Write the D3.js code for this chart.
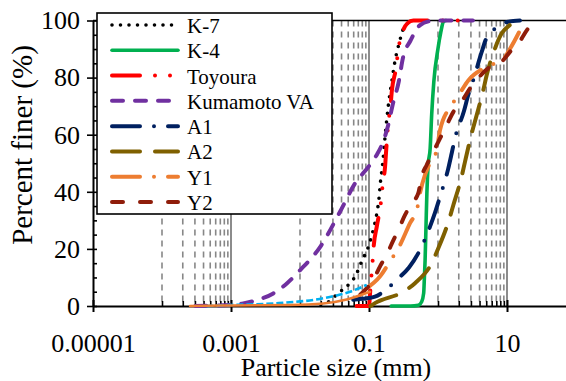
<!DOCTYPE html>
<html>
<head>
<meta charset="utf-8">
<script src="https://cdn.jsdelivr.net/npm/d3@7"></script>
<style>
  html, body { margin: 0; padding: 0; background: #fff; }
  svg { display: block; }
</style>
</head>
<body>
<svg id="chart" width="566" height="381"></svg>
<script>
// Grain-size distribution curves (percent finer vs particle size, mm)

const k7Size   = [0.02, 0.029, 0.034, 0.042, 0.053, 0.063, 0.078, 0.1, 0.115, 0.13, 0.14, 0.146, 0.158, 0.17, 0.19, 0.214, 0.235, 0.28, 0.31, 0.36, 0.44];
const k7Pct    = [0.5, 2.3, 4, 5.8, 8, 10.3, 15.5, 21.4, 26.6, 32.5, 38, 43, 50, 58.7, 70, 78.6, 85, 93, 96.7, 99, 100];

const k4Size   = [0.21, 0.4, 0.52, 0.58, 0.62, 0.635, 0.65, 0.67, 0.69, 0.72, 0.77, 0.81, 0.87, 1.0, 1.1, 1.2, 1.3];
const k4Pct    = [0, 0, 0.3, 1.5, 4.5, 10, 16, 28, 39.5, 49.4, 55.2, 67, 78.6, 90.2, 96, 99.6, 100];

const toySize  = [0.066, 0.1, 0.104, 0.108, 0.113, 0.117, 0.13, 0.15, 0.158, 0.171, 0.178, 0.19, 0.204, 0.215, 0.245, 0.27, 0.31, 0.36, 0.44, 2.1];
const toyPct   = [0, 0, 5, 10, 16, 21, 28, 37, 42.7, 48.8, 55, 64, 69.5, 75.7, 83, 90.8, 96.3, 99, 100, 100];

const kumSize  = [0.000304, 0.001, 0.0015, 0.0024, 0.0041, 0.0065, 0.01, 0.02, 0.038, 0.063, 0.1, 0.13, 0.16, 0.19, 0.22, 0.27, 0.31, 0.4, 0.55, 0.77, 1, 3.2];
const kumPct   = [0, 0.4, 0.9, 2.1, 4.4, 8, 12.5, 21, 33, 43, 49, 53, 57.5, 63.4, 70.4, 78.6, 86.8, 93, 98.4, 99.8, 100, 100];

const a1Size   = [0.059, 0.078, 0.1, 0.122, 0.266, 0.38, 0.518, 0.766, 0.905, 1.07, 1.41, 1.58, 1.76, 2.38, 2.75, 3.25, 4.3, 5.08, 7.48, 10, 15.4];
const a1Pct    = [2.2, 2.5, 2.8, 3.3, 9.7, 13.5, 18.5, 27.8, 32.7, 38.3, 48.2, 53.5, 58.7, 68.3, 74, 79.2, 89, 94, 97.8, 99.5, 100];

const a2Size   = [0.105, 0.122, 0.314, 0.464, 0.81, 1.01, 1.45, 1.67, 2.2, 2.46, 3.08, 3.64, 4.54, 5.08, 6.7, 8.38, 11, 13.8, 17];
const a2Pct    = [0, 1, 5, 8, 15, 20.2, 30.3, 35.4, 45.3, 50.5, 60.5, 66.9, 75.7, 80.9, 90.2, 95.5, 98.4, 99.8, 100];

const y1Size   = [0.0926, 0.144, 0.2, 0.266, 0.393, 0.5, 0.548, 0.648, 0.723, 0.957, 1.07, 1.58, 2.04, 2.75, 5.08, 9.06, 11, 18.2];
const y1Pct    = [6.2, 10.3, 15.5, 20.2, 29, 34.2, 39.5, 45.9, 48.8, 54.6, 61.6, 70.4, 74.3, 79, 83.8, 86.8, 90, 100];

const y2Size   = [0.075, 0.0926, 0.122, 0.144, 0.18, 0.225, 0.266, 0.333, 0.416, 0.518, 0.58, 0.686, 0.81, 1.07, 1.34, 1.67, 2.2, 2.91, 3.64, 5.36, 8.38, 11.7, 14.6, 20.4, 26.9];
const y2Pct    = [4, 6.2, 10.3, 13.8, 17.9, 23, 26.6, 31.9, 36, 39.5, 45.3, 49.4, 52.9, 58.7, 63.4, 68, 71.6, 76.2, 79.2, 83.3, 85.6, 89.7, 92, 97.3, 100];

// fines (hydrometer) portions, not listed in the legend
const finesBlueSize   = [0.00044, 0.001, 0.0041, 0.0216, 0.053, 0.0926];
const finesBluePct    = [0, 0.35, 0.9, 2.7, 5, 7.4];
const finesOrangeSize = [0.000255, 0.001, 0.0072, 0.0218, 0.0475, 0.103];
const finesOrangePct  = [0, 0.2, 0.35, 0.9, 2.3, 5];

const seriesNames = ["K-7", "K-4", "Toyoura", "Kumamoto VA", "A1", "A2", "Y1", "Y2"];

const xMajorTicks = [1e-5, 1e-3, 1e-1, 10, 1000];
const xLabeledTicks = [1e-5, 1e-3, 1e-1, 10];
const xTickLabels = ["0.00001", "0.001", "0.1", "10"];
const yMajorTicks = [0, 20, 40, 60, 80, 100];
const yMinorTicks = [5, 10, 15, 25, 30, 35, 45, 50, 55, 65, 70, 75, 85, 90, 95];

const FONT = '"Liberation Serif", serif';

// line appearance for each curve
const styles = {
  "K-7":         { color: "#000000", width: 3.6, dash: "0,8.5",               cap: "round" },
  "K-4":         { color: "#00B050", width: 3.6, dash: null,                  cap: "round" },
  "Toyoura":     { color: "#FF0000", width: 4,   dash: "28,15,0,15,0,15",     cap: "round" },
  "Kumamoto VA": { color: "#7030A0", width: 4,   dash: "11,12",               cap: "round" },
  "A1":          { color: "#002060", width: 4,   dash: "28,14,0,14",          cap: "round" },
  "A2":          { color: "#7F6000", width: 4,   dash: "28,15",               cap: "round" },
  "Y1":          { color: "#ED7D31", width: 4,   dash: "28,14,0,14",          cap: "round" },
  "Y2":          { color: "#8F1D0A", width: 4,   dash: "11,17",               cap: "round" },
  "finesBlue":   { color: "#00B0F0", width: 2.6, dash: "7,3",                 cap: "butt" },
  "finesOrange": { color: "#ED7D31", width: 2.6, dash: null,                  cap: "round" }
};

const zip = (xs, ys) => xs.map((v, i) => [v, ys[i]]);
const curves = [
  { key: "K-7",         pts: zip(k7Size, k7Pct) },
  { key: "K-4",         pts: zip(k4Size, k4Pct) },
  { key: "Toyoura",     pts: zip(toySize, toyPct) },
  { key: "Kumamoto VA", pts: zip(kumSize, kumPct) },
  { key: "A1",          pts: zip(a1Size, a1Pct) },
  { key: "A2",          pts: zip(a2Size, a2Pct) },
  { key: "Y1",          pts: zip(y1Size, y1Pct) },
  { key: "Y2",          pts: zip(y2Size, y2Pct) },
  { key: "finesBlue",   pts: zip(finesBlueSize, finesBluePct) },
  { key: "finesOrange", pts: zip(finesOrangeSize, finesOrangePct) }
];

const svg = d3.select("#chart");
const plot = { left: 93, top: 20.5, bottom: 306, right: 645 };

const x = d3.scaleLog().domain([1e-5, 1000]).range([plot.left, plot.right]);
const y = d3.scaleLinear().domain([0, 100]).range([plot.bottom, plot.top]);

// minor positions of a base-100 log axis: 10..90 times each major value
const xMinorTicks = [];
xMajorTicks.forEach(m => { for (let n = 1; n <= 9; n++) xMinorTicks.push(m * 10 * n); });

svg.append("rect").attr("width", 566).attr("height", 381).attr("fill", "#fff");

// vertical gridlines
const grid = svg.append("g");
grid.selectAll("line.minor").data(xMinorTicks).join("line")
  .attr("class", "minor")
  .attr("x1", d => x(d)).attr("x2", d => x(d))
  .attr("y1", plot.top).attr("y2", plot.bottom)
  .attr("stroke", "#878787").attr("stroke-width", 1.6)
  .attr("stroke-dasharray", "6,5");
grid.selectAll("line.major").data(xMajorTicks.slice(1)).join("line")
  .attr("class", "major")
  .attr("x1", d => x(d)).attr("x2", d => x(d))
  .attr("y1", plot.top).attr("y2", plot.bottom)
  .attr("stroke", "#8c8c8c").attr("stroke-width", 2);

// plot frame (top edge)
svg.append("line")
  .attr("x1", plot.left).attr("x2", plot.right)
  .attr("y1", plot.top).attr("y2", plot.top)
  .attr("stroke", "#000").attr("stroke-width", 1.6);

// x axis
const labelOf = d => xTickLabels[xLabeledTicks.indexOf(d)];
const xAxis = svg.append("g")
  .attr("transform", `translate(0,${plot.bottom})`)
  .call(d3.axisBottom(x).tickValues(xLabeledTicks).tickFormat(labelOf)
        .tickSizeInner(6).tickSizeOuter(0).tickPadding(22));
xAxis.select(".domain").attr("stroke-width", 2);
xAxis.selectAll(".tick line").attr("y1", -6).attr("y2", 6).attr("stroke-width", 2);
xAxis.selectAll(".tick text").attr("fill", "#000")
  .style("font-family", FONT).style("font-size", "26px");
const xMinorAxis = svg.append("g")
  .attr("transform", `translate(0,${plot.bottom})`)
  .call(d3.axisTop(x).tickValues(xMinorTicks).tickFormat("").tickSizeInner(5).tickSizeOuter(0));
xMinorAxis.select(".domain").remove();
xMinorAxis.selectAll(".tick line").attr("stroke-width", 1.6);

// y axis
const yAxis = svg.append("g")
  .attr("transform", `translate(${plot.left},0)`)
  .call(d3.axisLeft(y).tickValues(yMajorTicks).tickFormat(d3.format("d"))
        .tickSizeInner(6).tickSizeOuter(0).tickPadding(7));
yAxis.select(".domain").attr("stroke-width", 2);
yAxis.selectAll(".tick line").attr("x1", -6).attr("x2", 4).attr("stroke-width", 1.6);
yAxis.selectAll(".tick text").attr("fill", "#000")
  .style("font-family", FONT).style("font-size", "26px");
const yMinorAxis = svg.append("g")
  .attr("transform", `translate(${plot.left},0)`)
  .call(d3.axisRight(y).tickValues(yMinorTicks).tickFormat("").tickSizeInner(4).tickSizeOuter(0));
yMinorAxis.select(".domain").remove();
yMinorAxis.selectAll(".tick line").attr("stroke-width", 1.6);

// axis titles
svg.append("text")
  .attr("x", 336).attr("y", 376)
  .attr("text-anchor", "middle")
  .style("font-family", FONT).style("font-size", "26px")
  .text("Particle size (mm)");
svg.append("text")
  .attr("transform", "translate(32,145) rotate(-90)")
  .attr("text-anchor", "middle")
  .style("font-family", FONT).style("font-size", "29px")
  .text("Percent finer (%)");

// curves
const line = d3.line().x(d => x(d[0])).y(d => y(d[1])).curve(d3.curveMonotoneX);
const applyStyle = (sel, st) => sel
  .attr("fill", "none")
  .attr("stroke", st.color)
  .attr("stroke-width", st.width)
  .attr("stroke-linecap", st.cap)
  .attr("stroke-linejoin", "round")
  .attr("stroke-dasharray", st.dash);

const curveLayer = svg.append("g");
curves.forEach(c => {
  curveLayer.append("path").datum(c.pts).attr("d", line).call(applyStyle, styles[c.key]);
});

// legend
const lg = svg.append("g");
lg.append("rect")
  .attr("x", 97).attr("y", 13).attr("width", 235).attr("height", 201)
  .attr("fill", "#fff").attr("stroke", "#000").attr("stroke-width", 1.6);
const rowY = d3.scalePoint().domain(seriesNames).range([25, 202]);
seriesNames.forEach(name => {
  const yy = rowY(name);
  lg.append("line")
    .attr("x1", 112).attr("x2", 178).attr("y1", yy).attr("y2", yy)
    .call(applyStyle, styles[name]);
  lg.append("text")
    .attr("x", 187).attr("y", yy + 8)
    .attr("fill", "#000")
    .style("font-family", FONT).style("font-size", "21px")
    .text(name);
});
</script>
</body>
</html>
